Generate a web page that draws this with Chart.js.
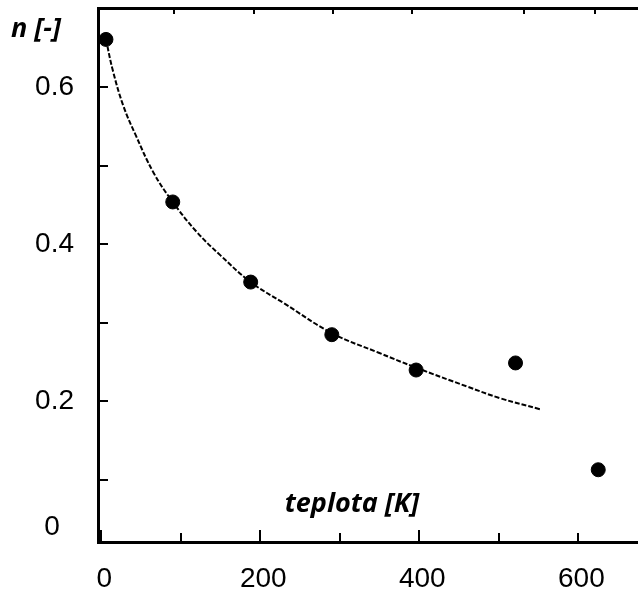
<!DOCTYPE html>
<html>
<head>
<meta charset="utf-8">
<script src="https://cdn.jsdelivr.net/npm/chart.js@4.4.1/dist/chart.umd.min.js"></script>
<style>
  html, body { margin: 0; padding: 0; background: #fff; overflow: hidden; }
  canvas { display: block; }
</style>
</head>
<body>
<canvas id="chart" width="638" height="591"></canvas>
<script>
// measured points: temperature [K] vs n [-]
const temps = [6, 90, 188, 290, 396, 521, 625];
const nValues = [0.661, 0.454, 0.352, 0.285, 0.240, 0.249, 0.113];

// fitted curve, read along its length
const fitTemps = [6, 15, 28, 43, 66, 90, 120, 150, 188, 230, 290, 349, 396, 460, 502, 552];
const fitValues = [0.661, 0.620, 0.576, 0.540, 0.491, 0.454, 0.416, 0.386, 0.352, 0.325, 0.287, 0.262, 0.243, 0.219, 0.204, 0.190];

// axis ticks
const xTicks = [0, 100, 200, 300, 400, 500, 600];
const xLabels = [0, 200, 400, 600];
const yTicks = [0.1, 0.2, 0.3, 0.4, 0.5, 0.6];
const yLabels = [0.2, 0.4, 0.6];
const topTicks = [92, 192, 292, 391, 532, 621];

const ink = '#000';

// tick marks point into the plot, drawn from the scale positions
const innerTicks = {
    id: 'innerTicks',
    afterDraw(chart) {
        const ctx = chart.ctx;
        const { x, y, x2 } = chart.scales;
        ctx.save();
        ctx.strokeStyle = ink;
        ctx.lineWidth = 2;
        ctx.beginPath();
        yTicks.forEach(v => {
            const py = Math.round(y.getPixelForValue(v));
            ctx.moveTo(y.right, py);
            ctx.lineTo(y.right + 10, py);
        });
        xTicks.forEach(v => {
            const px = Math.round(x.getPixelForValue(v));
            const len = xLabels.includes(v) && v !== 600 ? 12 : 9;
            ctx.moveTo(px, x.top);
            ctx.lineTo(px, x.top - len);
        });
        topTicks.forEach(v => {
            const px = Math.round(x2.getPixelForValue(v));
            ctx.moveTo(px, x2.bottom);
            ctx.lineTo(px, x2.bottom + 6);
        });
        ctx.stroke();

        // zero label sits a little above the bottom axis
        ctx.fillStyle = ink;
        ctx.font = '28px "Liberation Sans", Arial, sans-serif';
        ctx.textAlign = 'center';
        ctx.textBaseline = 'middle';
        ctx.fillText('0', 52, y.bottom - 15);

        // axis titles
        ctx.font = 'italic bold 27px "Open Sans", sans-serif';
        ctx.textAlign = 'left';
        ctx.fillText('n [-]', 11, 29);
        ctx.textAlign = 'center';
        ctx.fillText('teplota [K]', 352, 504);
        ctx.restore();
    }
};

// no extra room around the plot: the frame runs to the canvas edges
const noPad = s => {
    s.paddingTop = 0;
    s.paddingBottom = 0;
    s.paddingLeft = 0;
    s.paddingRight = 0;
};

const tickFont = { family: '"Liberation Sans", Arial, sans-serif', size: 28 };

new Chart(document.getElementById('chart'), {
    type: 'scatter',
    data: {
        datasets: [
            {
                label: 'fit',
                data: fitTemps.map((t, i) => ({ x: t, y: fitValues[i] })),
                showLine: true,
                borderColor: ink,
                borderWidth: 2,
                borderDash: [5, 2],
                tension: 0.4,
                pointRadius: 0,
                order: 2
            },
            {
                label: 'n',
                data: temps.map((t, i) => ({ x: t, y: nValues[i] })),
                backgroundColor: ink,
                borderColor: ink,
                pointRadius: 7,
                pointHoverRadius: 7,
                order: 1
            }
        ]
    },
    options: {
        responsive: false,
        animation: false,
        events: [],
        layout: { padding: 0, autoPadding: false },
        plugins: { legend: { display: false }, tooltip: { enabled: false } },
        scales: {
            x: {
                type: 'linear',
                min: -4,
                max: 675,
                afterFit: s => { s.height = 49; noPad(s); },
                afterBuildTicks: s => { s.ticks = xLabels.map(v => ({ value: v })); },
                grid: { display: true, drawOnChartArea: false, drawTicks: false },
                border: { color: ink, width: 3 },
                ticks: { color: ink, font: tickFont, padding: 20, maxRotation: 0, labelOffset: 3 }
            },
            x2: {
                type: 'linear',
                position: 'top',
                min: -4,
                max: 675,
                afterFit: s => { s.height = 8; noPad(s); },
                afterBuildTicks: s => { s.ticks = []; },
                grid: { display: true, drawOnChartArea: false, drawTicks: false },
                border: { color: ink, width: 3 },
                ticks: { display: false }
            },
            y: {
                type: 'linear',
                min: 0.021,
                max: 0.701,
                afterFit: s => { s.width = 98; noPad(s); },
                afterBuildTicks: s => { s.ticks = yLabels.map(v => ({ value: v })); },
                grid: { display: true, drawOnChartArea: false, drawTicks: false },
                border: { color: ink, width: 3 },
                ticks: { color: ink, font: tickFont, padding: 24, callback: v => v.toFixed(1) }
            }
        }
    },
    plugins: [innerTicks]
});
</script>
</body>
</html>
